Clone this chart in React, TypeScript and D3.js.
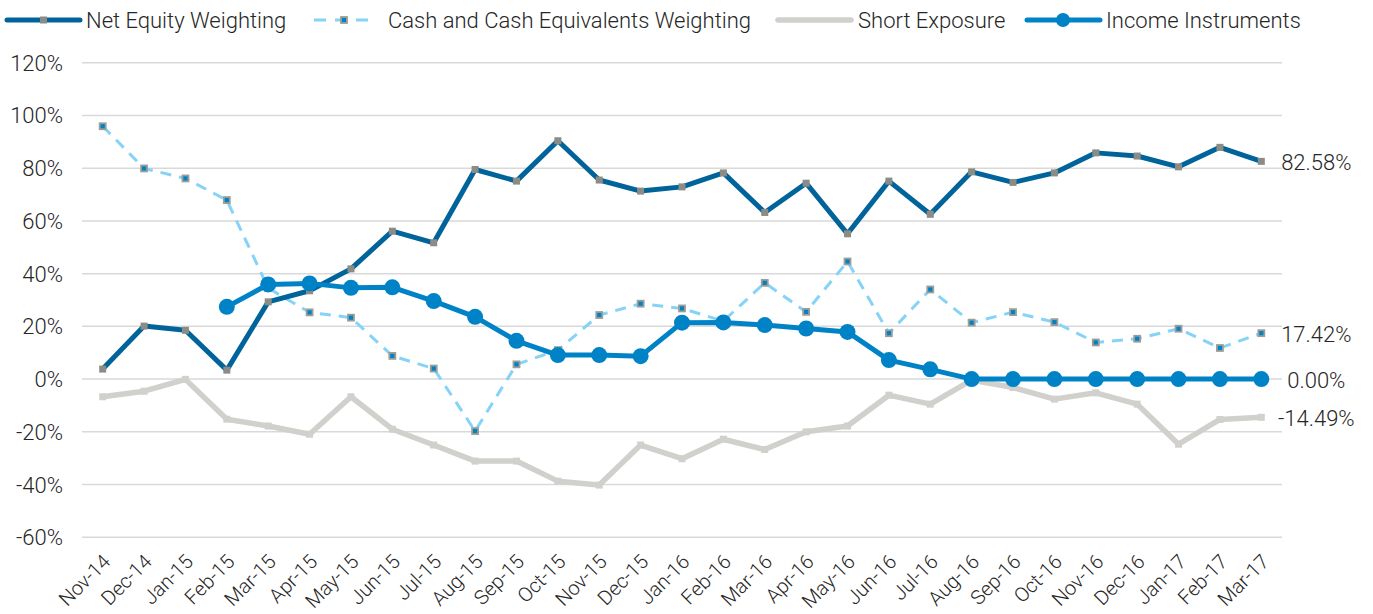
import React from "react";
import * as d3 from "d3";

const categories = [
  "Nov-14", "Dec-14", "Jan-15", "Feb-15", "Mar-15", "Apr-15", "May-15", "Jun-15", "Jul-15",
  "Aug-15", "Sep-15", "Oct-15", "Nov-15", "Dec-15", "Jan-16", "Feb-16", "Mar-16", "Apr-16",
  "May-16", "Jun-16", "Jul-16", "Aug-16", "Sep-16", "Oct-16", "Nov-16", "Dec-16", "Jan-17",
  "Feb-17", "Mar-17",
];

const netEquity = [
  3.8, 20.1, 18.5, 3.4, 29.3, 33.5, 41.8, 56.1, 51.7, 79.5, 75.1, 90.4, 75.5, 71.3, 72.9, 78.2,
  63.2, 74.3, 55.1, 75.1, 62.5, 78.6, 74.6, 78.2, 85.8, 84.6, 80.5, 87.9, 82.58,
];

const cashWeighting = [
  95.9, 79.9, 76.1, 67.9, 34.5, 25.3, 23.3, 8.8, 4.0, -19.7, 5.6, 11.0, 24.3, 28.6, 26.8, 22.0,
  36.5, 25.5, 44.6, 17.4, 34.0, 21.4, 25.4, 21.6, 13.9, 15.3, 19.1, 11.8, 17.42,
];

const shortExposure = [
  -6.7, -4.6, -0.1, -15.2, -17.8, -20.9, -6.7, -19.0, -25.0, -31.1, -31.1, -38.7, -40.2, -25.0,
  -30.2, -22.8, -26.7, -20.0, -17.8, -6.1, -9.5, -0.4, -3.2, -7.6, -5.2, -9.5, -24.7, -15.3, -14.49,
];

const incomeInstruments: (number | null)[] = [
  null, null, null, 27.4, 35.9, 36.3, 34.6, 34.8, 29.6, 23.6, 14.5, 9.1, 9.1, 8.7, 21.4, 21.5,
  20.5, 19.2, 17.9, 7.2, 3.7, 0, 0, 0, 0, 0, 0, 0, 0,
];

const yTicks = [-60, -40, -20, 0, 20, 40, 60, 80, 100, 120];

const endLabels = ["82.58%", "17.42%", "0.00%", "-14.49%"];

const seriesNames = [
  "Net Equity Weighting",
  "Cash and Cash Equivalents Weighting",
  "Short Exposure",
  "Income Instruments",
];

const W = 1373;
const H = 614;
const FONT = "Roboto, 'Liberation Sans', Arial, sans-serif";
const TEXT = "#262626";

const C_NET = "#00649B";
const C_CASH = "#86D3F7";
const C_SHORT = "#D1D0CC";
const C_INC = "#0083C6";
const C_MARK = "#8C8C86";

export default function App() {
  const x = d3.scalePoint<string>().domain(categories).range([82, 1282]).padding(0.5);
  const y = d3.scaleLinear().domain([-60, 120]).range([537.3, 62.7]);

  const mkLine = (vals: (number | null)[]) =>
    d3
      .line<number | null>()
      .defined((d) => d !== null)
      .x((_, i) => x(categories[i]) as number)
      .y((d) => y(d as number))(vals) || "";

  const lastX = x(categories[categories.length - 1]) as number;
  const lastIdx = categories.length - 1;
  const endVals = [
    netEquity[lastIdx],
    cashWeighting[lastIdx],
    incomeInstruments[lastIdx] as number,
    shortExposure[lastIdx],
  ];

  return (
    <svg
      width={W}
      height={H}
      style={{ position: "absolute", left: 0, top: 0, background: "#fff" }}
      fontFamily={FONT}
      fontWeight={300}
    >
      {/* gridlines */}
      {yTicks.map((t) => (
        <line key={t} x1={82} x2={1282} y1={y(t)} y2={y(t)} stroke="#D9D9D9" strokeWidth={1.5} />
      ))}
      {/* y labels */}
      {yTicks.map((t) => (
        <text key={"l" + t} x={63} y={y(t) + 8} textAnchor="end" fontSize={22} fill={TEXT}>
          {t + "%"}
        </text>
      ))}
      {/* x labels */}
      {categories.map((c) => {
        const px = (x(c) as number) + 4;
        const py = 558;
        return (
          <text
            key={c}
            transform={`translate(${px},${py}) rotate(-45)`}
            textAnchor="end"
            dy="0.35em"
            fontSize={20}
            fill={TEXT}
          >
            {c}
          </text>
        );
      })}

      {/* Short exposure */}
      <path d={mkLine(shortExposure)} fill="none" stroke={C_SHORT} strokeWidth={5.5} strokeLinejoin="round" />
      {shortExposure.map((v, i) => (
        <rect key={"s" + i} x={(x(categories[i]) as number) - 3.5} y={y(v) - 3.5} width={7} height={7} fill={C_SHORT} />
      ))}

      {/* Cash */}
      <path d={mkLine(cashWeighting)} fill="none" stroke={C_CASH} strokeWidth={3} strokeDasharray="11,8" />
      {cashWeighting.map((v, i) => (
        <rect
          key={"c" + i}
          x={(x(categories[i]) as number) - 3}
          y={y(v) - 3}
          width={6}
          height={6}
          fill={C_INC}
          stroke="#9E9E98"
          strokeWidth={1.8}
        />
      ))}

      {/* Net equity */}
      <path d={mkLine(netEquity)} fill="none" stroke={C_NET} strokeWidth={5} strokeLinejoin="round" />
      {netEquity.map((v, i) => (
        <rect key={"n" + i} x={(x(categories[i]) as number) - 3.5} y={y(v) - 3.5} width={7} height={7} fill={C_MARK} />
      ))}

      {/* Income */}
      <path d={mkLine(incomeInstruments)} fill="none" stroke={C_INC} strokeWidth={5} strokeLinejoin="round" />
      {incomeInstruments.map((v, i) =>
        v === null ? null : (
          <circle key={"i" + i} cx={x(categories[i]) as number} cy={y(v)} r={8} fill={C_INC} />
        )
      )}

      {/* end labels */}
      {endLabels.map((l, i) => (
        <text key={l} x={lastX + 55} y={y(endVals[i]) + 9} textAnchor="middle" fontSize={22} fill={TEXT}>
          {l}
        </text>
      ))}

      {/* legend */}
      <g>
        <line x1={7} x2={80} y1={20} y2={20} stroke={C_NET} strokeWidth={5} strokeLinecap="round" />
        <rect x={40} y={16.5} width={7} height={7} fill={C_MARK} />
        <text x={86} y={27.5} fontSize={22} fill={TEXT}>{seriesNames[0]}</text>

        <line x1={314} x2={373} y1={20} y2={20} stroke={C_CASH} strokeWidth={3} strokeDasharray="12,9" />
        <rect x={341} y={17} width={6} height={6} fill={C_INC} stroke="#9E9E98" strokeWidth={1.8} />
        <text x={388} y={27.5} fontSize={22} fill={TEXT}>{seriesNames[1]}</text>

        <line x1={778} x2={851} y1={20} y2={20} stroke={C_SHORT} strokeWidth={5.5} strokeLinecap="round" />
        <text x={858} y={27.5} fontSize={22} fill={TEXT}>{seriesNames[2]}</text>

        <line x1={1027} x2={1100} y1={20} y2={20} stroke={C_INC} strokeWidth={5} strokeLinecap="round" />
        <circle cx={1063} cy={20} r={7} fill={C_INC} />
        <text x={1106} y={27.5} fontSize={22} fill={TEXT}>{seriesNames[3]}</text>
      </g>
    </svg>
  );
}
